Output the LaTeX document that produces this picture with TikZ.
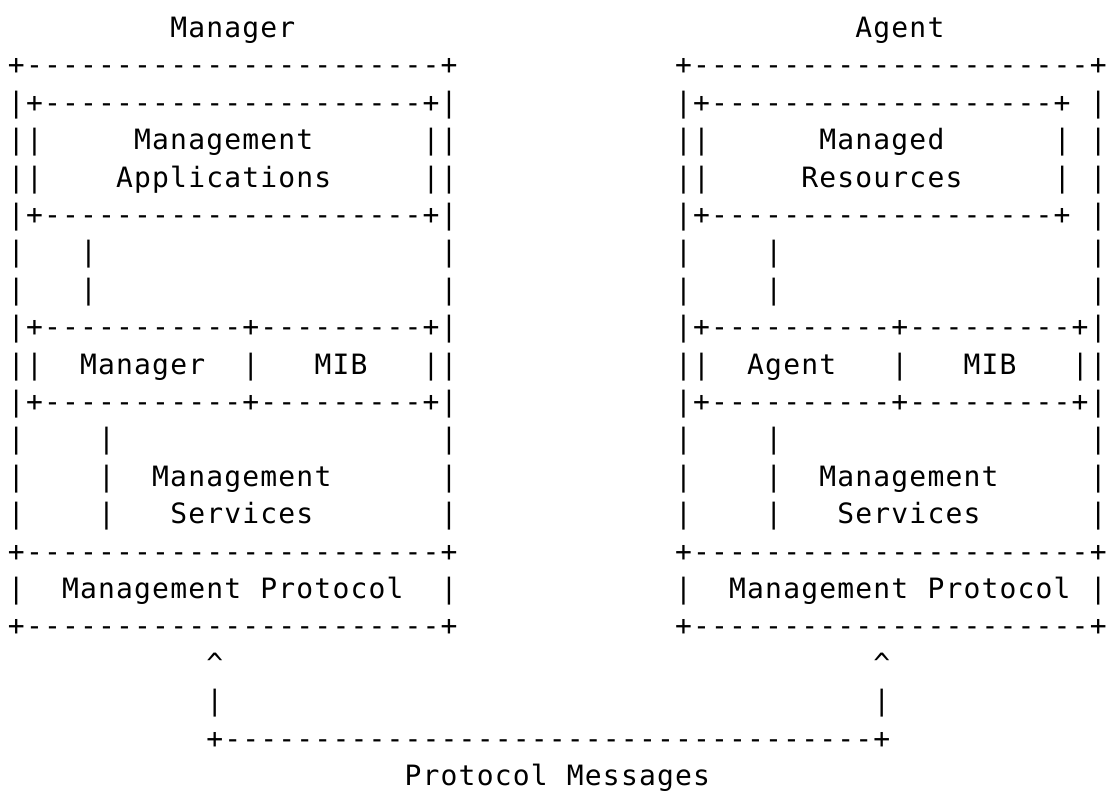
\documentclass[tikz,border=0pt]{standalone}
\usepackage{fontspec}
\setmonofont[LetterSpace=4.19]{DejaVu Sans Mono}
\usepackage{tikz}
\ExplSyntaxOn
\cs_new:Npn \asciidashes #1 { \prg_replicate:nn {#1} {-} }
\ExplSyntaxOff

\begin{document}
\begin{tikzpicture}[
    x=9.015pt, y=-18.7pt,
    asc/.style={anchor=base west, inner sep=0pt, outer sep=0pt,
                font=\ttfamily\fontsize{14pt}{16pt}\selectfont}
]
\useasboundingbox (-0.4437,-1.0) rectangle (61.342,20.31);

% titles
\node[asc] (mgrtitle) at (9,0)  {Manager};
\node[asc] (agttitle) at (47,0) {Agent};

% manager side
\node[asc] (mtop)    at (0,1)  {+\asciidashes{23}+};
\node[asc] (mapptop) at (0,2)  {|+\asciidashes{21}+|};
\node[asc] (mappl1)  at (0,3)  {||};
\node[asc] (mapp1)   at (7,3)  {Management};
\node[asc] (mappr1)  at (23,3) {||};
\node[asc] (mappl2)  at (0,4)  {||};
\node[asc] (mapp2)   at (6,4)  {Applications};
\node[asc] (mappr2)  at (23,4) {||};
\node[asc] (mappbot) at (0,5)  {|+\asciidashes{21}+|};
\foreach \r in {6,7} {
  \node[asc] (mwl\r)   at (0,\r)  {|};
  \node[asc] (mlink\r) at (4,\r)  {|};
  \node[asc] (mwr\r)   at (24,\r) {|};
}
\node[asc] (mmibtop) at (0,8)  {|+\asciidashes{11}+\asciidashes{9}+|};
\node[asc] (mmidl)   at (0,9)  {||};
\node[asc] (mgr)     at (4,9)  {Manager};
\node[asc] (mmidsep) at (13,9) {|};
\node[asc] (mmib)    at (17,9) {MIB};
\node[asc] (mmidr)   at (23,9) {||};
\node[asc] (mmibbot) at (0,10) {|+\asciidashes{11}+\asciidashes{9}+|};
\foreach \r in {11,12,13} {
  \node[asc] (mwl\r)   at (0,\r)  {|};
  \node[asc] (mlink\r) at (5,\r)  {|};
  \node[asc] (mwr\r)   at (24,\r) {|};
}
\node[asc] (msvc1)   at (8,12) {Management};
\node[asc] (msvc2)   at (9,13) {Services};
\node[asc] (mprotop) at (0,14) {+\asciidashes{23}+};
\node[asc] (mprol)   at (0,15) {|};
\node[asc] (mpro1)   at (3,15) {Management};
\node[asc] (mpro2)   at (14,15) {Protocol};
\node[asc] (mpror)   at (24,15) {|};
\node[asc] (mprobot) at (0,16) {+\asciidashes{23}+};

% agent side
\node[asc] (atop)    at (37,1) {+\asciidashes{22}+};
\node[asc] (arestop) at (37,2) {|+\asciidashes{19}+};
\node[asc] (awr2)    at (60,2) {|};
\node[asc] (aresl1)  at (37,3) {||};
\node[asc] (ares1)   at (45,3) {Managed};
\node[asc] (aresr1)  at (58,3) {|};
\node[asc] (awr3)    at (60,3) {|};
\node[asc] (aresl2)  at (37,4) {||};
\node[asc] (ares2)   at (44,4) {Resources};
\node[asc] (aresr2)  at (58,4) {|};
\node[asc] (awr4)    at (60,4) {|};
\node[asc] (aresbot) at (37,5) {|+\asciidashes{19}+};
\node[asc] (awr5)    at (60,5) {|};
\foreach \r in {6,7} {
  \node[asc] (awl\r)   at (37,\r) {|};
  \node[asc] (alink\r) at (42,\r) {|};
  \node[asc] (awr\r)   at (60,\r) {|};
}
\node[asc] (amibtop) at (37,8) {|+\asciidashes{10}+\asciidashes{9}+|};
\node[asc] (amidl)   at (37,9) {||};
\node[asc] (agt)     at (41,9) {Agent};
\node[asc] (amidsep) at (49,9) {|};
\node[asc] (amib)    at (53,9) {MIB};
\node[asc] (amidr)   at (59,9) {||};
\node[asc] (amibbot) at (37,10) {|+\asciidashes{10}+\asciidashes{9}+|};
\foreach \r in {11,12,13} {
  \node[asc] (awl\r)   at (37,\r) {|};
  \node[asc] (alink\r) at (42,\r) {|};
  \node[asc] (awr\r)   at (60,\r) {|};
}
\node[asc] (asvc1)   at (45,12) {Management};
\node[asc] (asvc2)   at (46,13) {Services};
\node[asc] (aprotop) at (37,14) {+\asciidashes{22}+};
\node[asc] (aprol)   at (37,15) {|};
\node[asc] (apro1)   at (40,15) {Management};
\node[asc] (apro2)   at (51,15) {Protocol};
\node[asc] (apror)   at (60,15) {|};
\node[asc] (aprobot) at (37,16) {+\asciidashes{22}+};

% protocol messages
\node[asc] (mcaret) at (11,17) {\textasciicircum};
\node[asc] (acaret) at (48,17) {\textasciicircum};
\node[asc] (mstem)  at (11,18) {|};
\node[asc] (astem)  at (48,18) {|};
\node[asc] (msgline) at (11,19) {+\asciidashes{36}+};
\node[asc] (msg1)   at (22,20) {Protocol};
\node[asc] (msg2)   at (31,20) {Messages};
\end{tikzpicture}
\end{document}
